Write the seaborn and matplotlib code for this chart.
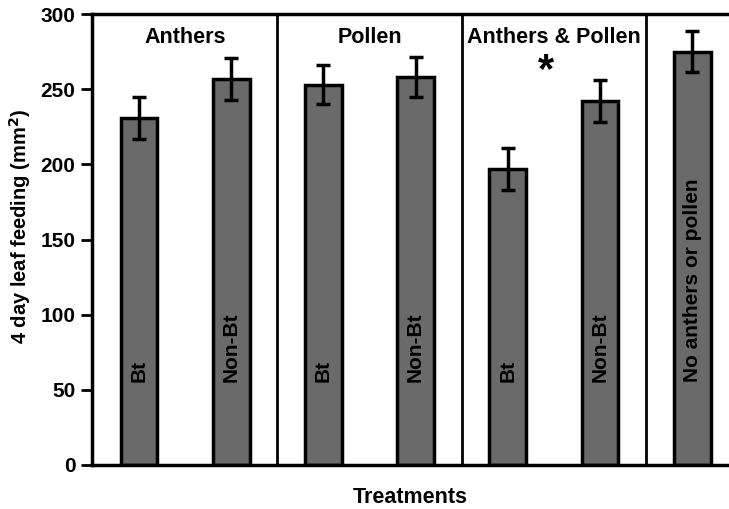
import matplotlib
matplotlib.use("Agg")
import matplotlib.pyplot as plt
import seaborn as sns
import pandas as pd

treatments = ["Anthers Bt", "Anthers Non-Bt", "Pollen Bt", "Pollen Non-Bt",
              "A&P Bt", "A&P Non-Bt", "None"]
bar_labels = ["Bt", "Non-Bt", "Bt", "Non-Bt", "Bt", "Non-Bt", "No anthers or pollen"]
feeding = [231, 257, 253, 258, 197, 242, 275]
errors = [14, 14, 13, 13.5, 14, 14, 13.5]
groups = ["Anthers", "Pollen", "Anthers & Pollen"]
y_ticks = [0, 50, 100, 150, 200, 250, 300]

sns.set_theme(style="white")
plt.rcParams["font.family"] = ["Liberation Sans", "DejaVu Sans"]
plt.rcParams["font.weight"] = "bold"
for k in ["text.color", "axes.labelcolor", "xtick.color", "ytick.color"]:
    plt.rcParams[k] = "black"

df = pd.DataFrame({"treatment": treatments, "feeding": feeding})

fig = plt.figure(figsize=(7.29, 5.09), dpi=100)
ax = fig.add_axes([92/729, 1-465/509, 1-92/729, (465-14)/509])

sns.barplot(data=df, x="treatment", y="feeding", order=treatments,
            color="#6a6a6a", saturation=1, edgecolor="black", linewidth=2.5,
            width=0.4, errorbar=None, ax=ax)
ax.errorbar(range(len(treatments)), feeding, yerr=errors, fmt="none",
            ecolor="black", elinewidth=2.5, capsize=5, capthick=2.5, zorder=5)

for i, lab in enumerate(bar_labels):
    ax.text(i, 55, lab, rotation=90, rotation_mode="anchor", ha="left",
            va="center", fontsize=15, fontweight="bold", color="black")

for xs in [1.5, 3.5, 5.5]:
    ax.axvline(xs, color="black", linewidth=2)

for gi, g in enumerate(groups):
    ax.text(0.5 + 2*gi, 281, g, ha="center", va="baseline", fontsize=15.5,
            fontweight="bold")
ax.text(4.42, 262, "*", ha="center", va="center", fontsize=30, fontweight="bold")

ax.set_xlim(-0.51, 6.4)
ax.set_ylim(0, 300)
ax.set_yticks(y_ticks)
ax.set_yticklabels([str(t) for t in y_ticks], fontsize=15, fontweight="bold")
ax.set_xticks([])
ax.set_xlabel("Treatments", fontsize=15.5, fontweight="bold", labelpad=16)
ax.set_ylabel("4 day leaf feeding (mm$\\mathbf{^2}$)", fontsize=14.5,
              fontweight="bold")
ax.yaxis.set_label_coords(-0.092, 0.53)
ax.tick_params(axis="y", direction="out", length=8, width=2, left=True, pad=4)
for s in ["left", "top", "bottom"]:
    ax.spines[s].set_linewidth(2.5)
    ax.spines[s].set_color("black")
ax.spines["right"].set_visible(False)

fig.savefig("out.png", dpi=100)
